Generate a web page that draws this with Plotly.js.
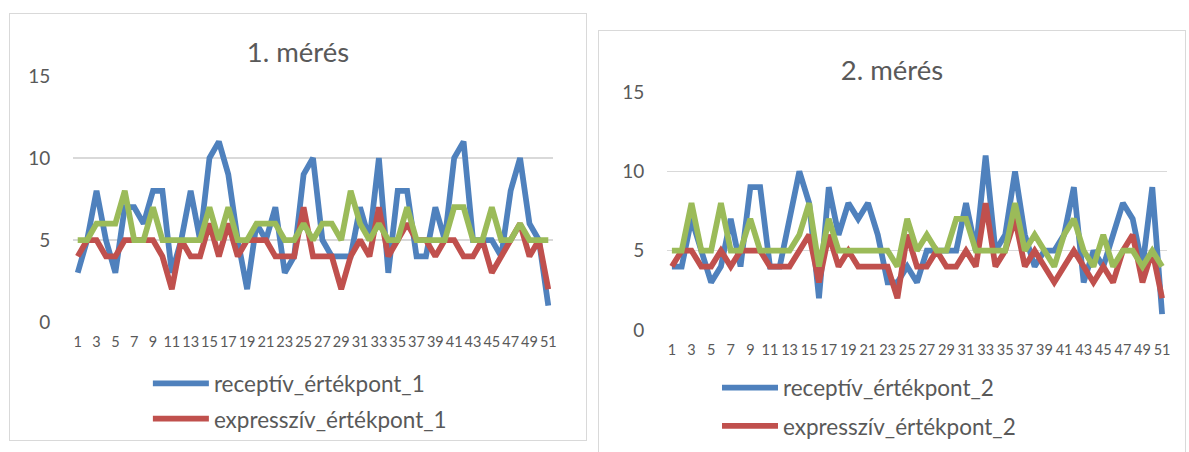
<!DOCTYPE html>
<html>
<head>
<meta charset="utf-8">
<script src="https://cdn.plot.ly/plotly-3.0.1.min.js"></script>
<style>
  html, body { margin: 0; padding: 0; background: #fff; width: 1189px; height: 452px; overflow: hidden; }
  .frame { position: absolute; border: 1px solid #d9d9d9; background: #fff; box-sizing: border-box; overflow: hidden; }
  #frame1 { left: 9px; top: 13px; width: 578px; height: 428px; }
  #frame2 { left: 598px; top: 30px; width: 588px; height: 440px; }
  .chart { position: absolute; left: 0; top: 0; }
</style>
</head>
<body>
<div class="frame" id="frame1"><div id="chart1" class="chart"></div></div>
<div class="frame" id="frame2"><div id="chart2" class="chart"></div></div>
<script>
// Measurement points (1..51) along the category axis
const points = [1,2,3,4,5,6,7,8,9,10,11,12,13,14,15,16,17,18,19,20,21,22,23,24,25,26,
                27,28,29,30,31,32,33,34,35,36,37,38,39,40,41,42,43,44,45,46,47,48,49,50,51];
// Every second point is labelled on the x axis
const tickPoints = [1,3,5,7,9,11,13,15,17,19,21,23,25,27,29,31,33,35,37,39,41,43,45,47,49,51];
const yTicks = [0, 5, 10, 15];

// 1. mérés
const receptiv1 = [3,5,8,5,3,7,7,6,8,8,3,5,8,5,10,11,9,5,2,6,5,7,3,4,9,10,
                   5,4,4,4,7,5,10,3,8,8,4,4,7,5,10,11,5,5,5,4,8,10,6,5,1];
const expressziv1 = [4,5,5,4,4,5,5,5,5,4,2,5,4,4,6,4,6,4,5,5,5,4,4,4,7,4,
                     4,4,2,4,5,4,7,4,5,6,5,5,4,5,5,4,4,5,3,4,5,6,4,5,2];
const harmadik1 = [5,5,6,6,6,8,5,5,7,5,5,5,5,5,7,5,7,5,5,6,6,6,5,5,6,5,
                   6,6,5,8,6,5,6,5,5,7,5,5,5,5,7,7,5,5,7,5,5,6,5,5,5];

// 2. mérés
const receptiv2 = [4,4,7,5,3,4,7,4,9,9,4,4,7,10,8,2,9,6,8,7,8,6,3,3,4,3,
                   5,5,5,5,8,5,11,5,6,10,6,4,5,5,6,9,3,5,4,6,8,7,4,9,1];
const expressziv2 = [4,5,5,4,4,5,4,5,5,5,4,4,4,5,6,3,6,4,5,4,4,4,4,2,6,4,
                     4,5,4,4,5,4,8,4,5,7,4,5,4,3,4,5,4,3,4,3,5,6,3,5,2];
const harmadik2 = [5,5,8,5,5,8,5,5,7,5,5,5,5,6,8,4,7,5,5,5,5,5,5,4,7,5,
                   6,5,5,7,7,5,5,5,5,8,5,6,5,4,6,7,5,4,6,4,5,5,4,5,4];

const COLORS = { blue: '#4f81bd', red: '#c0504d', green: '#9bbb59' };
const TEXT = '#595959';
const FONT = 'Lato, "Noto Sans", sans-serif';
const LINE_W = 5.75;

function traces(r, e, g, n) {
  const common = { x: points, type: 'scatter', mode: 'lines', hoverinfo: 'skip' };
  return [
    Object.assign({}, common, { y: r, name: 'receptív_értékpont_' + n, legendgroup: 'r',
      line: { color: COLORS.blue, width: LINE_W } }),
    Object.assign({}, common, { y: e, name: 'expresszív_értékpont_' + n, legendgroup: 'e',
      line: { color: COLORS.red, width: LINE_W } }),
    Object.assign({}, common, { y: g, name: 'harmadik_' + n, showlegend: false,
      line: { color: COLORS.green, width: LINE_W } })
  ];
}

function layout(o) {
  return {
    width: o.w, height: o.h,
    margin: o.margin,
    paper_bgcolor: '#fff', plot_bgcolor: '#fff',
    font: { family: FONT, color: TEXT },
    title: { text: o.title, font: { size: 27.5, color: TEXT, family: FONT },
             xref: 'container', x: 0.5, xanchor: 'center',
             yref: 'container', y: o.titleY, yanchor: 'middle' },
    showlegend: true,
    legend: {
      xref: 'paper', yref: 'paper', x: o.legX, y: o.legY,
      xanchor: 'left', yanchor: 'top',
      font: { size: 22.5, color: TEXT, family: FONT },
      itemwidth: 56, tracegroupgap: o.legGap, bgcolor: 'rgba(0,0,0,0)'
    },
    xaxis: {
      range: [0.5, 51.5], tickmode: 'array', tickvals: tickPoints,
      ticktext: tickPoints.map(String), tickangle: 0,
      showgrid: false, zeroline: false, showline: false,
      ticks: 'outside', ticklen: 7, tickcolor: 'rgba(0,0,0,0)',
      tickfont: { size: 14.5, color: TEXT, family: FONT }
    },
    yaxis: {
      range: [0, 15], tickmode: 'array', tickvals: yTicks,
      showgrid: true, gridcolor: '#d9d9d9', gridwidth: 1.5,
      zeroline: false, showline: false,
      ticks: 'outside', ticklen: 18, tickcolor: 'rgba(0,0,0,0)',
      tickfont: { size: 19, color: TEXT, family: FONT }
    }
  };
}

const config = { staticPlot: true, displayModeBar: false };

Plotly.newPlot('chart1', traces(receptiv1, expressziv1, harmadik1, 1), layout({
  w: 576, h: 470, margin: { l: 63, r: 33, t: 62, b: 162 },
  title: '1. mérés', titleY: 1 - 38 / 470,
  legX: 0.156, legY: -0.164, legGap: 3
}), config);

Plotly.newPlot('chart2', traces(receptiv2, expressziv2, harmadik2, 2), layout({
  w: 586, h: 480, margin: { l: 68, r: 18, t: 61, b: 181 },
  title: '2. mérés', titleY: 1 - 39 / 480,
  legX: 0.1, legY: -0.153, legGap: 6
}), config);
</script>
</body>
</html>
